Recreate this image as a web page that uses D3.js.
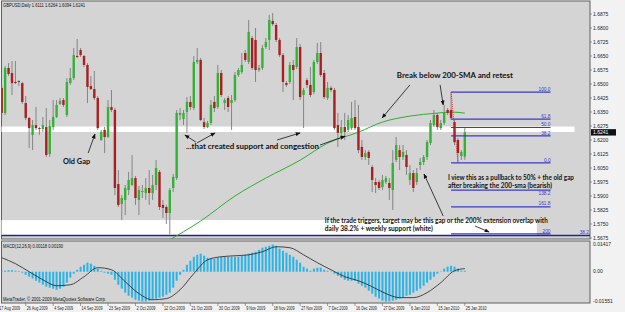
<!DOCTYPE html>
<html>
<head>
<meta charset="utf-8">
<script src="https://cdn.jsdelivr.net/npm/d3@7"></script>
<style>
  body { margin: 0; background: #f2f2f2; }
  svg { display: block; }
</style>
</head>
<body>
<div id="vis"></div>
<script>
// == DATA (GBPUSD daily) ==
const title = "GBPUSD,Daily  1.6111 1.6264 1.6094 1.6241";

const open = [
  1.6479,1.6345,1.6586,1.6559,1.6511,1.6516,1.6505,1.6398,1.6318,1.6227,
  1.6280,1.6264,1.6259,1.6270,1.6125,1.6270,1.6323,1.6393,1.6414,1.6334,
  1.6505,1.6532,1.6650,1.6682,1.6650,1.6602,1.6489,1.6473,1.6425,1.6200,
  1.6254,1.6216,1.6377,1.6361,1.5964,1.5857,1.5879,1.5932,1.5959,1.5996,
  1.5879,1.5921,1.5916,1.5943,1.5916,1.5959,1.6029,1.5852,1.5841,1.5809,
  1.5943,1.5996,1.6334,1.6313,1.6350,1.6404,1.6371,1.6618,1.6629,1.6296,
  1.6270,1.6291,1.6404,1.6377,1.6559,1.6398,1.6425,1.6398,1.6414,1.6548,
  1.6564,1.6666,1.6618,1.6746,1.6736,1.6575,1.6586,1.6698,1.6736,1.6838,
  1.6816,1.6736,1.6655,1.6505,1.6511,1.6602,1.6591,1.6698,1.6441,1.6521,
  1.6495,1.6457,1.6618,1.6666,1.6559,1.6425,1.6479,1.6468,1.6280,1.6238,
  1.6270,1.6254,1.6264,1.6323,1.6270,1.6163,1.6109,1.6136,1.6055,1.5975,
  1.5975,1.5948,1.5975,1.5970,1.5932,1.6093,1.6146,1.6109,1.6120,1.5986,
  1.6023,1.5975,1.6066,1.6082,1.6109,1.6184,1.6280,1.6334,1.6264,1.6291,
  1.6361,1.6361,1.6296,1.6200,1.6114,1.6111];
const high = [
  1.6495,1.6596,1.6612,1.6623,1.6623,1.6521,1.6511,1.6436,1.6323,1.6307,
  1.6377,1.6270,1.6323,1.6371,1.6307,1.6414,1.6414,1.6425,1.6425,1.6532,
  1.6586,1.6693,1.6741,1.6693,1.6655,1.6612,1.6543,1.6570,1.6436,1.6254,
  1.6270,1.6414,1.6468,1.6371,1.6039,1.5905,1.5959,1.6029,1.6120,1.6007,
  1.5954,1.5959,1.5996,1.6039,1.6013,1.6093,1.6039,1.5879,1.5852,1.5943,
  1.6018,1.6361,1.6371,1.6361,1.6430,1.6436,1.6650,1.6693,1.6639,1.6318,
  1.6302,1.6414,1.6436,1.6602,1.6575,1.6425,1.6436,1.6441,1.6564,1.6586,
  1.6666,1.6682,1.6843,1.6757,1.6800,1.6602,1.6709,1.6746,1.6870,1.6880,
  1.6827,1.6746,1.6666,1.6516,1.6618,1.6629,1.6746,1.6714,1.6479,1.6532,
  1.6591,1.6629,1.6720,1.6725,1.6575,1.6511,1.6489,1.6479,1.6345,1.6307,
  1.6345,1.6334,1.6404,1.6414,1.6388,1.6200,1.6146,1.6146,1.6066,1.5996,
  1.5986,1.6013,1.6007,1.5996,1.6146,1.6216,1.6173,1.6173,1.6146,1.6066,
  1.6039,1.6050,1.6104,1.6120,1.6200,1.6307,1.6361,1.6345,1.6307,1.6388,
  1.6371,1.6457,1.6307,1.6211,1.6146,1.6264];
const low = [
  1.6318,1.6334,1.6543,1.6441,1.6500,1.6489,1.6393,1.6307,1.6157,1.6146,
  1.6254,1.6227,1.6243,1.6109,1.6109,1.6254,1.6318,1.6388,1.6377,1.6323,
  1.6495,1.6521,1.6639,1.6645,1.6591,1.6398,1.6468,1.6414,1.6254,1.6195,
  1.6130,1.6211,1.6350,1.5905,1.5841,1.5771,1.5798,1.5905,1.5954,1.5852,
  1.5798,1.5889,1.5879,1.5852,1.5879,1.5932,1.5825,1.5782,1.5750,1.5696,
  1.5921,1.5986,1.6307,1.6280,1.6238,1.6361,1.6361,1.6607,1.6302,1.6259,
  1.6264,1.6280,1.6350,1.6366,1.6430,1.6361,1.6350,1.6254,1.6404,1.6538,
  1.6554,1.6618,1.6607,1.6575,1.6511,1.6564,1.6575,1.6687,1.6682,1.6811,
  1.6725,1.6645,1.6457,1.6484,1.6500,1.6414,1.6580,1.6414,1.6264,1.6479,
  1.6430,1.6446,1.6607,1.6538,1.6420,1.6414,1.6457,1.6254,1.6163,1.6200,
  1.6200,1.6243,1.6254,1.6254,1.6130,1.6093,1.6093,1.6066,1.5921,1.5916,
  1.5932,1.5932,1.5964,1.5879,1.5825,1.6082,1.6039,1.6093,1.6013,1.5959,
  1.5921,1.5959,1.6039,1.6066,1.6093,1.6173,1.6270,1.6254,1.6254,1.6280,
  1.6334,1.6307,1.6173,1.6077,1.6093,1.6094];
const close = [
  1.6345,1.6586,1.6554,1.6505,1.6505,1.6511,1.6404,1.6318,1.6264,1.6280,
  1.6264,1.6259,1.6280,1.6120,1.6275,1.6323,1.6388,1.6409,1.6388,1.6511,
  1.6532,1.6655,1.6645,1.6655,1.6602,1.6484,1.6473,1.6425,1.6264,1.6243,
  1.6216,1.6377,1.6361,1.5943,1.5852,1.5889,1.5943,1.5986,1.5996,1.5889,
  1.5932,1.5927,1.5943,1.5916,1.5959,1.6050,1.5841,1.5836,1.5809,1.5932,
  1.6002,1.6345,1.6345,1.6345,1.6404,1.6377,1.6618,1.6629,1.6307,1.6270,
  1.6291,1.6388,1.6371,1.6559,1.6441,1.6414,1.6377,1.6414,1.6548,1.6575,
  1.6602,1.6629,1.6779,1.6586,1.6575,1.6586,1.6693,1.6725,1.6843,1.6821,
  1.6736,1.6655,1.6511,1.6495,1.6602,1.6575,1.6698,1.6430,1.6468,1.6495,
  1.6441,1.6618,1.6666,1.6548,1.6430,1.6479,1.6468,1.6264,1.6238,1.6270,
  1.6243,1.6307,1.6318,1.6264,1.6146,1.6109,1.6130,1.6104,1.5986,1.5959,
  1.5943,1.5986,1.5996,1.5943,1.6077,1.6173,1.6109,1.6136,1.6055,1.6023,
  1.5943,1.6023,1.6082,1.6109,1.6189,1.6291,1.6334,1.6270,1.6291,1.6350,
  1.6345,1.6318,1.6189,1.6130,1.6136,1.6241];

// 200-SMA, read at a handful of bars
const smaBars   = [48, 58, 68, 77, 87, 95, 104, 111, 119, 127, 131, 135];
const smaValues = [1.5655, 1.5766, 1.5900, 1.5996, 1.6092, 1.6183, 1.6242, 1.6296, 1.6328, 1.6344, 1.6350, 1.6344];

// MACD(12,26,9): histogram per bar, signal read every few bars
const macdHist = [
  0.0005,0.0005,0.0008,0.0008,0.0005,0.0003,-0.0005,-0.0016,-0.0026,-0.0036,
  -0.0047,-0.0057,-0.0068,-0.0078,-0.0083,-0.0088,-0.0094,-0.0088,-0.0078,-0.0057,
  -0.0031,-0.0010,0.0010,0.0026,0.0036,0.0047,0.0042,0.0031,0.0016,0.0005,
  -0.0005,-0.0010,-0.0016,-0.0042,-0.0068,-0.0088,-0.0109,-0.0125,-0.0135,-0.0146,
  -0.0151,-0.0155,-0.0155,-0.0151,-0.0146,-0.0140,-0.0135,-0.0130,-0.0120,-0.0109,
  -0.0083,-0.0047,-0.0016,0.0010,0.0036,0.0057,0.0078,0.0088,0.0094,0.0083,
  0.0073,0.0068,0.0068,0.0073,0.0078,0.0078,0.0078,0.0078,0.0078,0.0078,
  0.0083,0.0088,0.0094,0.0099,0.0104,0.0114,0.0125,0.0130,0.0135,0.0142,
  0.0135,0.0120,0.0109,0.0099,0.0088,0.0078,0.0062,0.0047,0.0026,0.0016,
  0.0005,0.0016,0.0021,0.0021,0.0010,0.0005,-0.0002,-0.0010,-0.0021,-0.0031,
  -0.0042,-0.0047,-0.0047,-0.0047,-0.0062,-0.0073,-0.0083,-0.0099,-0.0114,-0.0130,
  -0.0140,-0.0151,-0.0155,-0.0155,-0.0151,-0.0146,-0.0140,-0.0135,-0.0125,-0.0120,
  -0.0109,-0.0099,-0.0088,-0.0073,-0.0057,-0.0042,-0.0026,-0.0010,0.0002,0.0016,
  0.0026,0.0031,0.0026,0.0016,0.0005,0.0005];
const signalBars   = [0, 4, 8, 12, 16, 20, 24, 28, 32, 36, 40, 44, 48, 52, 56, 60, 64, 68,
                      72, 76, 80, 84, 88, 92, 96, 100, 104, 108, 112, 116, 120, 124, 128, 132, 135];
const signalValues = [0.0073, 0.0042, 0.0000, -0.0042, -0.0073, -0.0068, -0.0026, 0.0021, 0.0010,
                      -0.0052, -0.0114, -0.0146, -0.0140, -0.0094, -0.0010, 0.0062, 0.0078, 0.0083,
                      0.0088, 0.0104, 0.0130, 0.0125, 0.0088, 0.0047, 0.0010, -0.0026, -0.0047,
                      -0.0078, -0.0114, -0.0135, -0.0135, -0.0109, -0.0057, 0.0005, 0.0016];

const priceTicks = [1.6875, 1.6800, 1.6725, 1.6650, 1.6575, 1.6500, 1.6425, 1.6350, 1.6275,
                    1.6200, 1.6125, 1.6050, 1.5975, 1.5900, 1.5825, 1.5750, 1.5675];
const macdTicks = [0.01417, 0, -0.01551];
const macdTickLabels = ["0.01417", "0.00", "-0.01551"];
const dateLabels = ["17 Aug 2009", "26 Aug 2009", "4 Sep 2009", "14 Sep 2009", "23 Sep 2009",
                    "2 Oct 2009", "12 Oct 2009", "21 Oct 2009", "30 Oct 2009", "9 Nov 2009",
                    "18 Nov 2009", "27 Nov 2009", "7 Dec 2009", "16 Dec 2009", "27 Dec 2009",
                    "6 Jan 2010", "15 Jan 2010", "25 Jan 2010"];
const dateBars = [-1, 7, 15, 23, 31, 39, 47, 55, 63, 71, 79, 87, 95, 103, 111, 119, 127, 135];

// Fibonacci drawn on the last swing (ratio 1 = swing high, 0 = swing low)
const fibHigh = 1.6457, fibLow = 1.6077;
const fibRatios = [1, 0.618, 0.5, 0.382, 0, -0.382, -0.618, -1];
const fibNames = ["100.0", "61.8", "50.0", "38.2", "0.0", "138.2", "161.8", "200"];
const gapZone = [1.6243, 1.6272];      // old gap (white band)
const supportZone = [1.5691, 1.5771];  // weekly support (white)
const weeklyLevel = 1.5688;

// == BOILERPLATE ==
const W = 625, H = 312;
const left = 1.5, right = 590, mainTop = 1, mainBot = 239, macdTop = 241, macdBot = 303;

const svg = d3.select("#vis").append("svg").attr("width", W).attr("height", H);
svg.append("rect").attr("width", W).attr("height", H).attr("fill", "#f2f2f2");

const x = d3.scaleLinear().domain([0, 171.5]).range([1.7, 590]);
const y = d3.scaleLinear().domain([1.6875, 1.5675]).range([14, 238]);
const ym = d3.scaleLinear().domain([0.01417, -0.01551]).range([244.5, 301.5]);

const defs = svg.append("defs");
defs.append("clipPath").attr("id", "mainClip").append("rect")
    .attr("x", left).attr("y", mainTop).attr("width", right - left).attr("height", mainBot - mainTop);
defs.append("clipPath").attr("id", "macdClip").append("rect")
    .attr("x", left).attr("y", macdTop).attr("width", right - left).attr("height", macdBot - macdTop);
defs.append("marker").attr("id", "arrow").attr("viewBox", "0 0 10 10")
    .attr("refX", 9).attr("refY", 5).attr("markerUnits", "userSpaceOnUse")
    .attr("markerWidth", 5).attr("markerHeight", 5).attr("orient", "auto")
  .append("path").attr("d", "M0,1L10,5L0,9z").attr("fill", "#111");

// panels
svg.append("rect").attr("x", left).attr("y", mainTop).attr("width", right - left)
   .attr("height", mainBot - mainTop).attr("fill", "#d4d4d4").attr("stroke", "#606060");
svg.append("rect").attr("x", left).attr("y", macdTop).attr("width", right - left)
   .attr("height", macdBot - macdTop).attr("fill", "#d4d4d4").attr("stroke", "#606060");

const main = svg.append("g").attr("clip-path", "url(#mainClip)");

// white zones
main.append("rect").attr("x", x(-5)).attr("width", x(167) - x(-5))
    .attr("y", y(gapZone[1])).attr("height", y(gapZone[0]) - y(gapZone[1])).attr("fill", "#fff");
main.append("rect").attr("x", x(-5)).attr("width", x(156) - x(-5))
    .attr("y", y(supportZone[1])).attr("height", y(supportZone[0]) - y(supportZone[1])).attr("fill", "#fff");

// weekly level
main.append("line").attr("x1", left).attr("x2", right)
    .attr("y1", y(weeklyLevel)).attr("y2", y(weeklyLevel))
    .attr("stroke", "#24248a").attr("stroke-width", 1.5);

// 200 SMA
const smaPts = smaBars.map((b, i) => [b, smaValues[i]]);
main.append("path").datum(smaPts)
    .attr("fill", "none").attr("stroke", "#2eb02e").attr("stroke-width", 1)
    .attr("d", d3.line().x(d => x(d[0])).y(d => y(d[1])).curve(d3.curveMonotoneX));

// candles
const bars = d3.range(open.length);
main.append("g").selectAll("line").data(bars).enter().append("line")
    .attr("x1", i => x(i)).attr("x2", i => x(i))
    .attr("y1", i => y(high[i])).attr("y2", i => y(low[i]))
    .attr("stroke", "#7c7c7c").attr("stroke-width", 0.9);
main.append("g").selectAll("rect").data(bars).enter().append("rect")
    .attr("x", i => x(i) - 1.2).attr("width", 2.4)
    .attr("y", i => y(Math.max(open[i], close[i])))
    .attr("height", i => Math.max(1, Math.abs(y(open[i]) - y(close[i]))))
    .attr("fill", i => close[i] >= open[i] ? "#33b233" : "#a82020");

// fibonacci
const fibX1 = 131, fibX2 = 160;
const fibPrice = r => fibLow + (fibHigh - fibLow) * r;
main.append("line").attr("x1", x(fibX1)).attr("y1", y(fibHigh)).attr("x2", x(133)).attr("y2", y(fibLow))
    .attr("stroke", "#cc2222").attr("stroke-dasharray", "1,1").attr("stroke-width", 0.8);
const fib = main.append("g");
fib.selectAll("line").data(fibRatios).enter().append("line")
    .attr("x1", x(fibX1)).attr("x2", x(fibX2))
    .attr("y1", d => y(fibPrice(d))).attr("y2", d => y(fibPrice(d)))
    .attr("stroke", "#3a3ac8").attr("stroke-width", 1.2);
// the 138.2 label sits under its line so it clears the note above it
fib.selectAll("text").data(fibRatios).enter().append("text")
    .attr("x", x(fibX2))
    .attr("y", (d, i) => y(fibPrice(d)) + (fibNames[i] === "138.2" ? 5 : -1.3))
    .attr("text-anchor", "end").attr("font-family", "Liberation Sans, Arial, sans-serif")
    .attr("font-size", 4.8).attr("fill", "#3a3ac8")
    .text((d, i) => fibNames[i]);
main.append("text").attr("x", right - 1).attr("y", y(weeklyLevel) - 1.3)
    .attr("text-anchor", "end").attr("font-family", "Liberation Sans, Arial, sans-serif")
    .attr("font-size", 4.8).attr("fill", "#3a3ac8").text("38.2");

// title
svg.append("text").attr("x", 3).attr("y", 7).attr("font-family", "Liberation Sans, Arial, sans-serif")
   .attr("font-size", 4.8).attr("textLength", 82).attr("lengthAdjust", "spacingAndGlyphs")
   .attr("fill", "#111").text(title);

// annotations (bar / price coordinates)
const notes = [
  ["Old Gap", 17.9, 1.6074, 27],
  ["...that created support and congestion", 53.7, 1.6154, 133],
  ["Break below 200-SMA and retest", 115.2, 1.6532, 116],
  ["I view this as a pullback to 50% + the old gap", 130.1, 1.5986, 126],
  ["after breaking the 200-sma (bearish)", 130.1, 1.5943, 104],
  ["If the trade triggers, target may be this gap or the 200% extension overlap with", 94.2, 1.5753, 223],
  ["daily 38.2% + weekly support (white)", 94.2, 1.5713, 108]
];
svg.append("g").selectAll("text").data(notes).enter().append("text")
   .attr("x", d => x(d[1])).attr("y", d => y(d[2]))
   .attr("textLength", d => d[3]).attr("lengthAdjust", "spacingAndGlyphs")
   .attr("font-family", "Lato, 'Open Sans', sans-serif").attr("font-weight", 700)
   .attr("font-size", 7.2).attr("fill", "#111").text(d => d[0]);

const arrows = [
  [25.2, 1.6130, 27.2, 1.6232],
  [56.6, 1.6189, 53.4, 1.6227],
  [56.9, 1.6184, 62.2, 1.6238],
  [80.3, 1.6200, 87.0, 1.6238],
  [92.8, 1.6173, 100.1, 1.6221],
  [119.0, 1.6495, 110.9, 1.6318],
  [127.8, 1.6495, 128.7, 1.6388],
  [128.7, 1.5793, 123.1, 1.6018],
  [138.0, 1.5739, 142.1, 1.5707]
];
svg.append("g").selectAll("line").data(arrows).enter().append("line")
   .attr("x1", d => x(d[0])).attr("y1", d => y(d[1]))
   .attr("x2", d => x(d[2])).attr("y2", d => y(d[3]))
   .attr("stroke", "#111").attr("stroke-width", 0.8).attr("marker-end", "url(#arrow)");

// price axis
const axisFont = "Liberation Sans, Arial, sans-serif";
const pa = svg.append("g");
pa.selectAll("line").data(priceTicks).enter().append("line")
  .attr("x1", right).attr("x2", right + 2).attr("y1", d => y(d)).attr("y2", d => y(d))
  .attr("stroke", "#606060").attr("stroke-width", 0.6);
pa.selectAll("text").data(priceTicks).enter().append("text")
  .attr("x", right + 3).attr("y", d => y(d) + 1.7)
  .attr("font-family", axisFont).attr("font-size", 5).attr("fill", "#222")
  .text(d => d.toFixed(4));
const last = close[close.length - 1];
svg.append("rect").attr("x", right + 1).attr("y", y(last) - 3.2).attr("width", 25).attr("height", 6.4).attr("fill", "#111");
svg.append("text").attr("x", right + 3).attr("y", y(last) + 1.7)
   .attr("font-family", axisFont).attr("font-size", 5).attr("fill", "#fff").text(last.toFixed(4));

// MACD panel
const macd = svg.append("g").attr("clip-path", "url(#macdClip)");
macd.selectAll("rect").data(macdHist).enter().append("rect")
    .attr("x", (d, i) => x(i) - 1).attr("width", 2)
    .attr("y", d => Math.min(ym(d), ym(0)))
    .attr("height", d => Math.abs(ym(d) - ym(0)))
    .attr("fill", "#2ab4e8");
const sigPts = signalBars.map((b, i) => [b, signalValues[i]]);
macd.append("path").datum(sigPts)
    .attr("fill", "none").attr("stroke", "#222").attr("stroke-width", 0.8)
    .attr("d", d3.line().x(d => x(d[0])).y(d => ym(d[1])).curve(d3.curveMonotoneX));

svg.append("text").attr("x", 3).attr("y", 247.5).attr("font-family", axisFont)
   .attr("font-size", 4.8).attr("textLength", 60).attr("lengthAdjust", "spacingAndGlyphs")
   .attr("fill", "#111").text("MACD(12,26,9) 0.00118 0.00190");
svg.append("text").attr("x", 3).attr("y", 301).attr("font-family", axisFont)
   .attr("font-size", 4.8).attr("textLength", 103).attr("lengthAdjust", "spacingAndGlyphs")
   .attr("fill", "#111").text("MetaTrader, \u00a9 2001-2009 MetaQuotes Software Corp.");

const ma = svg.append("g");
ma.selectAll("text").data(macdTicks).enter().append("text")
  .attr("x", right + 3).attr("y", d => ym(d) + 1.7)
  .attr("font-family", axisFont).attr("font-size", 5).attr("fill", "#222")
  .text((d, i) => macdTickLabels[i]);

// date axis
const da = svg.append("g");
da.selectAll("line").data(dateBars).enter().append("line")
  .attr("x1", d => x(d)).attr("x2", d => x(d)).attr("y1", macdBot).attr("y2", macdBot + 3)
  .attr("stroke", "#606060").attr("stroke-width", 0.6);
da.selectAll("text").data(dateBars).enter().append("text")
  .attr("x", d => x(d) + 1).attr("y", 309.5)
  .attr("textLength", (d, i) => dateLabels[i].length * 1.9).attr("lengthAdjust", "spacingAndGlyphs")
  .attr("font-family", axisFont).attr("font-size", 4.6).attr("fill", "#222")
  .text((d, i) => dateLabels[i]);
</script>
</body>
</html>
